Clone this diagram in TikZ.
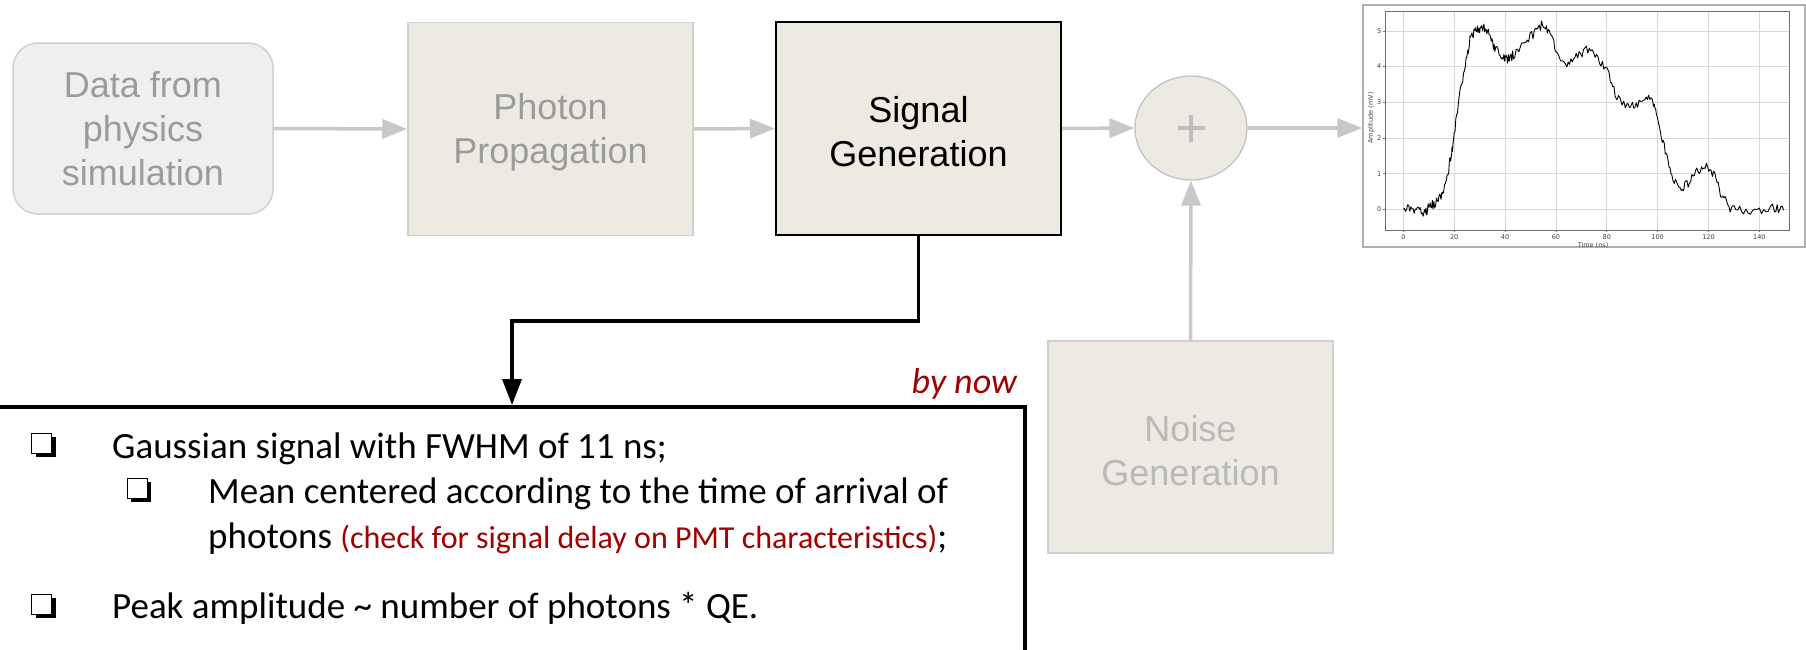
\documentclass[tikz,border=0pt]{standalone}
\usepackage{fontspec}
\setmainfont{Carlito}
\newfontfamily\arialf{Liberation Sans}
\newfontfamily\plotf{DejaVu Sans}
\usetikzlibrary{arrows.meta,shapes.geometric,shadows}
\definecolor{beige}{RGB}{236,234,225}
\definecolor{datafill}{RGB}{239,239,239}
\definecolor{lgborder}{RGB}{208,208,208}
\definecolor{arrowgray}{RGB}{200,200,200}
\definecolor{txtgray}{RGB}{155,155,155}
\definecolor{txtlight}{RGB}{185,185,185}
\definecolor{darkred}{RGB}{160,0,0}
\definecolor{plusgray}{RGB}{190,190,190}
\definecolor{framegray}{RGB}{175,175,175}
\definecolor{gridgray}{RGB}{215,215,215}
\definecolor{spinegray}{RGB}{110,110,110}
\newcommand{\upstrut}{\rule{0pt}{33pt}}
\tikzset{
  block/.style={draw=lgborder, line width=1.5pt, fill=beige, text=txtgray,
    font=\arialf\fontsize{36}{44}\selectfont, align=center, inner sep=0pt,
    minimum width=285pt, minimum height=213pt},
  garrow/.style={draw=arrowgray, line width=3.5pt, -{Triangle[length=25pt,width=19pt]}},
  barrow/.style={draw=black, line width=3.5pt, -{Triangle[length=26pt,width=19pt]}},
  txt/.style={font=\fontsize{37}{43}\selectfont, inner sep=0pt, anchor=base west},
  chk/.style={draw=black, line width=1pt, fill=white, minimum size=20pt, inner sep=0pt,
    drop shadow={shadow xshift=4pt, shadow yshift=-4pt, opacity=1, fill=black}},
  gridl/.style={draw=gridgray, line width=0.8pt},
  tickl/.style={font=\plotf\fontsize{6.5}{7}\selectfont, text=black!75, inner sep=0pt},
  wave/.style={draw=black, line width=0.9pt, line join=round}
}
\begin{document}
\begin{tikzpicture}[x=1pt,y=-1pt]
\useasboundingbox (0,0) rectangle (1806,649);
\pgfmathsetseed{7}
% blocks
\node[block, fill=datafill, draw=lgborder, rounded corners=25pt,
      minimum width=260pt, minimum height=171pt] (data) at (143,128.5) {Data from\\physics\\simulation};
\node[block] (photon) at (550.5,129) {\upstrut Photon\\Propagation};
\node[block, draw=black, line width=2pt, text=black] (sig) at (918.5,128.5) {\upstrut Signal\\Generation};
\node[block, text=txtlight, minimum height=212pt] (noise) at (1190.5,447) {\upstrut Noise\\Generation};
\node[ellipse, draw=plusgray, line width=1.2pt, fill=beige, minimum width=112pt,
      minimum height=104pt, inner sep=0pt] (sum) at (1191,128) {};
\draw[draw=plusgray, line width=4pt] ([xshift=-13.5pt]sum.center) -- ([xshift=13.5pt]sum.center);
\draw[draw=plusgray, line width=4pt] ([yshift=-13.5pt]sum.center) -- ([yshift=13.5pt]sum.center);
% plot frame
\node[draw=framegray, line width=1.5pt, fill=white, minimum width=442pt, minimum height=242pt,
      inner sep=0pt] (plot) at (1584,126) {};
% connectors
\draw[garrow] (data.east) -- (photon.west);
\draw[garrow] (photon.east) -- (sig.west);
\draw[garrow] (sig.east) -- (sum.west);
\draw[garrow] (sum.east) -- (plot.west |- sum.east);
\draw[garrow] (noise.north) -- (sum.south);
% text box
\node[draw=black, line width=4pt, anchor=north east, minimum width=1080pt, minimum height=320pt,
      inner sep=0pt] (tbox) at (1027,405) {};
\coordinate (bend) at (512,321);
\draw[barrow] (sig.south) |- (bend) -- (bend |- tbox.north);
\node[anchor=base east, inner sep=0pt, font=\itshape\fontsize{36}{42}\selectfont, text=darkred]
  (bynow) at (1017,393) {by now};
\node[chk] (c1) at (41.5,443) {};
\node[chk] (c2) at (137,488) {};
\node[chk] (c3) at (41.5,604) {};
\node[txt] (l1) at (112,458) {Gaussian signal with FWHM of 11 ns;};
\node[txt] (l2) at (208,503) {Mean centered according to the time of arrival of};
\node[txt] (l3) at (208,548) {photons {\color{darkred}\fontsize{32}{36}\selectfont(check for signal delay on PMT characteristics)};};
\node[txt] (l4) at (112,618) {Peak amplitude \textasciitilde{} number of photons * QE.};
% plot
\coordinate (po) at (1403.3,209.3);
\begin{scope}[shift={(po)}, x=2.543pt, y=35.67pt]
  \foreach \gx in {0,20,...,140} {
    \draw[gridl] (\gx,-0.58) -- (\gx,5.56);
    \draw[spinegray, line width=0.6pt] (\gx,-0.58) -- ++(0pt,-2.5pt);
    \node[tickl] at (\gx,-0.78) {\gx};
  }
  \foreach \gy in {0,...,5} {
    \draw[gridl] (-7.2,\gy) -- (152,\gy);
    \draw[spinegray, line width=0.6pt] (-7.2,\gy) -- ++(-2.5pt,0pt);
    \node[tickl, anchor=east] at (-8.6,\gy) {\gy};
  }
  \draw[spinegray, line width=0.8pt] (-7.2,-0.58) rectangle (152,5.56);
  \node[tickl] at (74.6,-1.02) {Time (ns)};
  \node[tickl, rotate=90] at (-12.7,2.56) {Amplitude (mV)};
  \draw[wave] (0,0)
    \foreach \t/\v [remember=\t as \tp (initially 0), remember=\v as \vp (initially 0)] in
      {3/0.0, 6/-0.05, 8.5/-0.12, 10/0.05, 12/0.15, 14.4/0.3, 16/0.6, 17.7/1.1, 19/1.6,
       20/2.1, 22.3/3.25, 24.7/4.15, 26.2/4.75, 28/4.95, 30/5.08, 32/5.1, 34/4.85, 36/4.5,
       39/4.25, 41/4.2, 43.3/4.33, 47/4.65, 51/4.9, 54.4/5.17, 57/5.05, 60/4.45, 64.3/4.0,
       68/4.25, 72/4.5, 76/4.3, 80/3.9, 83.3/3.25, 88/2.85, 91/2.9, 95/3.15, 98.4/3.0,
       100.3/2.4, 103/1.66, 105.6/0.92, 108.9/0.55, 112/0.72, 115.4/1.05, 118.7/1.25,
       122/1.0, 125.2/0.36, 128.5/0.05, 133.8/-0.02, 140/-0.05, 146/0.05, 149.5/0.0}
    { \foreach \k in {1,...,7} { -- ({\tp+(\t-\tp)*\k/7}, {\vp+(\v-\vp)*\k/7+0.13*rand}) } };
\end{scope}
\end{tikzpicture}
\end{document}
